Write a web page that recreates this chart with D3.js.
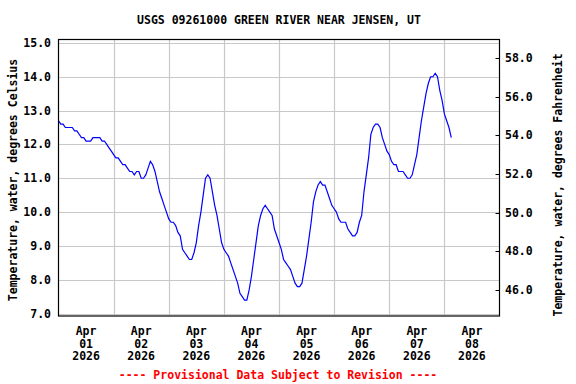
<!DOCTYPE html>
<html>
<head>
<meta charset="utf-8">
<script src="https://cdn.jsdelivr.net/npm/d3@7"></script>
<style>
body { margin: 0; background: #fff; }
text { font-family: "DejaVu Sans Mono", monospace; font-weight: bold; font-size: 11.5px; }
</style>
</head>
<body>
<svg id="chart" width="576" height="384"></svg>
<script>
// hourly water temperature, deg C, starting 2026-04-01 00:00
let tempC = [
    12.7, 12.6, 12.6, 12.5, 12.5, 12.5, 12.5, 12.4, 12.4, 12.3, 12.2, 12.2,
    12.1, 12.1, 12.1, 12.2, 12.2, 12.2, 12.2, 12.1, 12.1, 12.0, 11.9, 11.8,
    11.7, 11.6, 11.6, 11.5, 11.4, 11.4, 11.3, 11.2, 11.2, 11.1, 11.2, 11.2,
    11.0, 11.0, 11.1, 11.3, 11.5, 11.4, 11.2, 10.9, 10.6, 10.4, 10.2, 10.0,
    9.8, 9.7, 9.7, 9.6, 9.4, 9.3, 8.9, 8.8, 8.7, 8.6, 8.6, 8.8,
    9.1, 9.6, 10.0, 10.5, 11.0, 11.1, 11.0, 10.6, 10.2, 9.9, 9.5, 9.1,
    8.9, 8.8, 8.7, 8.5, 8.3, 8.1, 7.9, 7.6, 7.5, 7.4, 7.4, 7.7,
    8.1, 8.6, 9.1, 9.6, 9.9, 10.1, 10.2, 10.1, 10.0, 9.9, 9.5, 9.3,
    9.1, 8.9, 8.6, 8.5, 8.4, 8.3, 8.1, 7.9, 7.8, 7.8, 7.9, 8.3,
    8.7, 9.2, 9.7, 10.3, 10.6, 10.8, 10.9, 10.8, 10.8, 10.6, 10.4, 10.2,
    10.1, 10.0, 9.8, 9.7, 9.7, 9.7, 9.5, 9.4, 9.3, 9.3, 9.4, 9.7,
    9.9, 10.6, 11.1, 11.6, 12.3, 12.5, 12.6, 12.6, 12.5, 12.2, 12.0, 11.8,
    11.7, 11.5, 11.4, 11.4, 11.2, 11.2, 11.2, 11.1, 11.0, 11.0, 11.1, 11.4,
    11.7, 12.2, 12.7, 13.1, 13.5, 13.8, 14.0, 14.0, 14.1, 14.0, 13.6, 13.3,
    12.9, 12.7, 12.5, 12.2
];
let startTime = new Date(2026, 3, 1, 0, 0);
let days = ["01", "02", "03", "04", "05", "06", "07", "08"];
let celsiusTicks = [7, 8, 9, 10, 11, 12, 13, 14, 15];
let fahrenheitTicks = [46, 48, 50, 52, 54, 56, 58];
let title = "USGS 09261000 GREEN RIVER NEAR JENSEN, UT";
let leftLabel = "Temperature, water, degrees Celsius";
let rightLabel = "Temperature, water, degrees Fahrenheit";
let note = "---- Provisional Data Subject to Revision ----";

let plotLeft = 58.5, plotRight = 499.5, plotTop = 39.5, plotBottom = 316;

let svg = d3.select("#chart");

let x = d3.scaleTime()
    .domain([new Date(2026, 3, 1), new Date(2026, 3, 9)])
    .range([plotLeft, plotRight]);
let y = d3.scaleLinear().domain([6.93, 15.1]).range([plotBottom, plotTop]);
// right axis is scaled on its own in the original, not exactly C*1.8+32
let yF = d3.scaleLinear().domain([44.65, 58.96]).range([plotBottom, plotTop]);

let data = tempC.map(function(v, i) {
    return { t: d3.timeHour.offset(startTime, i), v: v };
});

// grid
let midnights = d3.timeDay.range(new Date(2026, 3, 2), new Date(2026, 3, 9));
svg.append("g").selectAll("line")
    .data(midnights)
    .enter().append("line")
    .attr("x1", d => Math.round(x(d)) + 0.5)
    .attr("x2", d => Math.round(x(d)) + 0.5)
    .attr("y1", plotTop).attr("y2", plotBottom)
    .attr("stroke", "#c8c8c8").attr("stroke-width", 1.2);
svg.append("g").selectAll("line")
    .data(celsiusTicks)
    .enter().append("line")
    .attr("x1", plotLeft).attr("x2", plotRight)
    .attr("y1", d => Math.round(y(d)) + 0.5)
    .attr("y2", d => Math.round(y(d)) + 0.5)
    .attr("stroke", "#c8c8c8").attr("stroke-width", 1.2);

// data line
let line = d3.line()
    .x(d => x(d.t))
    .y(d => y(d.v));
svg.append("path")
    .datum(data)
    .attr("d", line)
    .attr("fill", "none")
    .attr("stroke", "#0000ff")
    .attr("stroke-width", 1.2);

// frame
svg.append("rect")
    .attr("x", plotLeft).attr("y", plotTop)
    .attr("width", plotRight - plotLeft).attr("height", plotBottom - plotTop)
    .attr("fill", "none").attr("stroke", "#000").attr("stroke-width", 1.2);

// left tick labels
svg.append("g").selectAll("text")
    .data(celsiusTicks)
    .enter().append("text")
    .attr("x", 51)
    .attr("y", d => y(d) + 4)
    .attr("text-anchor", "end")
    .text(d => d.toFixed(1));

// right ticks, pointing into the plot
svg.append("g").selectAll("line")
    .data(fahrenheitTicks)
    .enter().append("line")
    .attr("x1", plotRight - 4).attr("x2", plotRight)
    .attr("y1", d => Math.round(yF(d)) + 0.5)
    .attr("y2", d => Math.round(yF(d)) + 0.5)
    .attr("stroke", "#000");
svg.append("g").selectAll("text")
    .data(fahrenheitTicks)
    .enter().append("text")
    .attr("x", 505)
    .attr("y", d => yF(d) + 4)
    .text(d => d.toFixed(1));

// date labels at noon
let dateLabels = svg.append("g").selectAll("g")
    .data(days)
    .enter().append("g")
    .attr("transform", (d, i) =>
        "translate(" + x(d3.timeHour.offset(startTime, 24 * i + 12)) + ",0)");
dateLabels.append("text").attr("y", 335).attr("text-anchor", "middle").text("Apr");
dateLabels.append("text").attr("y", 347.5).attr("text-anchor", "middle").text(d => d);
dateLabels.append("text").attr("y", 360).attr("text-anchor", "middle").text("2026");

// titles
svg.append("text")
    .attr("x", 279).attr("y", 24)
    .attr("text-anchor", "middle")
    .text(title);
svg.append("text")
    .attr("transform", "translate(17,180) rotate(-90)")
    .attr("text-anchor", "middle")
    .text(leftLabel);
svg.append("text")
    .attr("transform", "translate(562,185) rotate(-90)")
    .attr("text-anchor", "middle")
    .text(rightLabel);
svg.append("text")
    .attr("x", 278).attr("y", 379)
    .attr("text-anchor", "middle")
    .attr("fill", "#ff0000")
    .text(note);
</script>
</body>
</html>
